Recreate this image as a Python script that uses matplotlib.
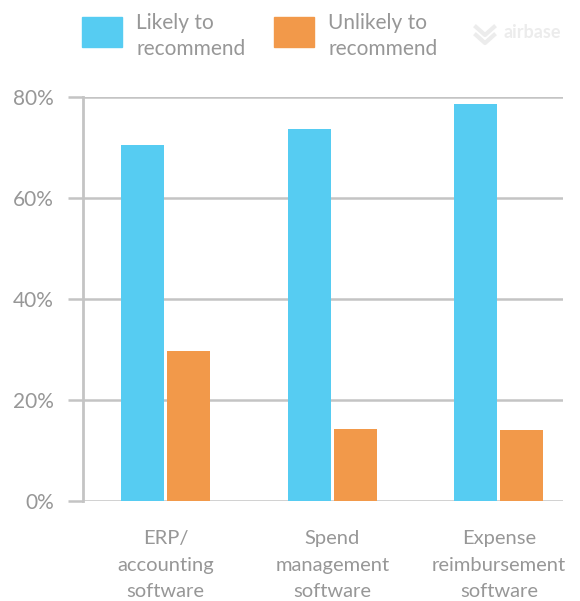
import numpy as np
import matplotlib
matplotlib.use("Agg")
import matplotlib.pyplot as plt
from matplotlib.lines import Line2D
from matplotlib.patches import Rectangle

# Data
categories = ["ERP/\naccounting\nsoftware",
              "Spend\nmanagement\nsoftware",
              "Expense\nreimbursement\nsoftware"]
likely = [70.4, 73.6, 78.7]
unlikely = [29.7, 14.2, 14.0]
series_names = ["Likely to\nrecommend", "Unlikely to\nrecommend"]
y_ticks = [0, 20, 40, 60, 80]
y_tick_labels = ["0%", "20%", "40%", "60%", "80%"]

BLUE = "#56CCF2"
ORANGE = "#F2994A"
GRID = "#c4c4c4"
TEXT = "#979797"

plt.rcParams['font.family'] = ['Lato', 'DejaVu Sans']

W, H = 580, 601
fig = plt.figure(figsize=(W / 100, H / 100), dpi=100)
fig.patch.set_facecolor("white")

# axes box in pixel coordinates: left spine x=83, right end x=563, 0% at y=501, 80% at y=97
ax = fig.add_axes([83 / W, 1 - 501 / H, (563 - 83) / W, (501 - 97) / H])

x = np.arange(len(categories))
width = 0.258
offset = 0.138
ax.bar(x - offset, likely, width, color=BLUE, zorder=3)
ax.bar(x + offset, unlikely, width, color=ORANGE, zorder=3)

ax.set_xlim(-0.495, 2.384)
ax.set_ylim(0, 80)

ax.set_yticks(y_ticks)
ax.set_yticklabels(y_tick_labels)
ax.yaxis.grid(True, color=GRID, linewidth=1.8, zorder=0)
ax.tick_params(axis="y", length=10.8, width=1.8, color=GRID, pad=10,
               labelsize=15, labelcolor=TEXT)

ax.set_xticks(x)
ax.set_xticklabels(categories, linespacing=1.68)
ax.tick_params(axis="x", length=0, pad=21, labelsize=14.5, labelcolor=TEXT)

for side in ["top", "right", "bottom"]:
    ax.spines[side].set_visible(False)
ax.spines["left"].set_color(GRID)
ax.spines["left"].set_linewidth(2.0)
ax.set_facecolor("none")

# legend drawn by hand at the top
def legend_item(x0, color, label):
    fig.add_artist(Rectangle((x0 / W, 1 - 47 / H), 40 / W, 30 / H,
                             transform=fig.transFigure, color=color))
    fig.text((x0 + 54) / W, 1 - 36 / H, label, fontsize=15, color=TEXT,
             va="center", ha="left", linespacing=1.42)

legend_item(82, BLUE, series_names[0])
legend_item(274, ORANGE, series_names[1])

# faint watermark
fig.add_artist(Line2D([476 / W, 485 / W, 494 / W], [1 - 27 / H, 1 - 35 / H, 1 - 27 / H],
                      transform=fig.transFigure, color="#ececec", linewidth=3))
fig.add_artist(Line2D([476 / W, 485 / W, 494 / W], [1 - 35 / H, 1 - 43 / H, 1 - 35 / H],
                      transform=fig.transFigure, color="#ececec", linewidth=3))
fig.text(503 / W, 1 - 33 / H, "airbase", fontsize=13, fontweight="bold",
         color="#ececec", va="center", ha="left")

fig.savefig("out.png", dpi=100)
